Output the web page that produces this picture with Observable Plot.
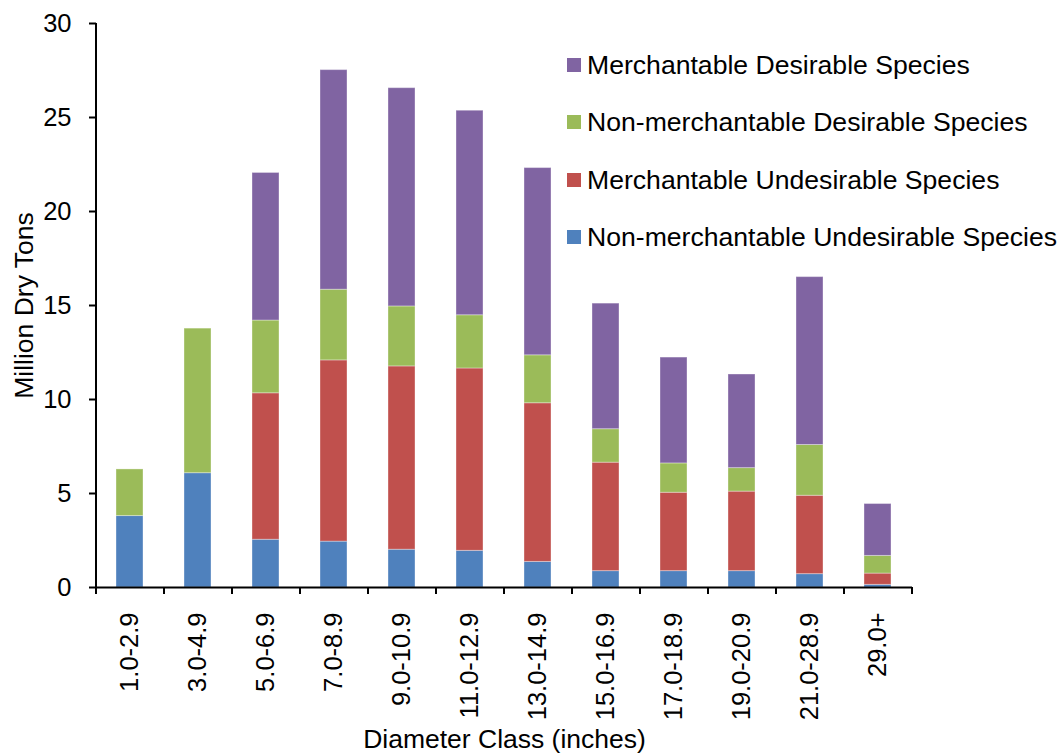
<!DOCTYPE html>
<html>
<head>
<meta charset="utf-8">
<script src="https://cdn.jsdelivr.net/npm/d3@7"></script>
<script src="https://cdn.jsdelivr.net/npm/@observablehq/plot@0.6"></script>
<style>
  html, body { margin: 0; padding: 0; background: #fff; }
  #wrap { position: relative; width: 1060px; height: 754px; font-family: "Liberation Sans", Arial, sans-serif; }
  .legend-row { position: absolute; left: 567px; height: 30px; display: flex; align-items: center; font-size: 26.6px; line-height: 30px; color: #000; white-space: nowrap; }
  .sw { width: 14px; height: 14px; margin-right: 6px; flex: none; }
</style>
</head>
<body>
<div id="wrap"></div>
<script>
const classes = ["1.0-2.9","3.0-4.9","5.0-6.9","7.0-8.9","9.0-10.9","11.0-12.9","13.0-14.9","15.0-16.9","17.0-18.9","19.0-20.9","21.0-28.9","29.0+"];
const seriesNames = ["Non-merchantable Undesirable Species","Merchantable Undesirable Species","Non-merchantable Desirable Species","Merchantable Desirable Species"];
const seriesColors = ["#4F81BD","#C0504D","#9BBB59","#8064A2"];
const nonMerchUndesirable = [3.80, 6.08, 2.54, 2.44, 2.01, 1.95, 1.36, 0.87, 0.87, 0.87, 0.71, 0.14];
const merchUndesirable    = [0, 0, 7.79, 9.64, 9.75, 9.70, 8.44, 5.77, 4.17, 4.23, 4.17, 0.60];
const nonMerchDesirable   = [2.48, 7.69, 3.87, 3.76, 3.19, 2.83, 2.55, 1.78, 1.56, 1.25, 2.70, 0.94];
const merchDesirable      = [0, 0, 7.85, 11.68, 11.61, 10.88, 9.96, 6.68, 5.63, 4.98, 8.93, 2.76];
const yTicks = [0, 5, 10, 15, 20, 25, 30];
const legendOrder = ["Merchantable Desirable Species","Non-merchantable Desirable Species","Merchantable Undesirable Species","Non-merchantable Undesirable Species"];

const seriesValues = [nonMerchUndesirable, merchUndesirable, nonMerchDesirable, merchDesirable];
const data = seriesNames.flatMap((s, si) => classes.map((c, ci) => ({cls: c, series: s, value: seriesValues[si][ci]})));

const W = 1060, H = 754, mL = 96, mR = 148, mT = 23, mB = 167;
const step = (W - mL - mR) / classes.length;
const below = 7 * 30 / (H - mT - mB); // 7px expressed in data units

const chart = Plot.plot({
  width: W, height: H,
  marginLeft: mL, marginRight: mR, marginTop: mT, marginBottom: mB,
  style: {fontFamily: "Liberation Sans, Arial, sans-serif", color: "#000", background: "#fff", overflow: "visible"},
  x: {domain: classes, paddingInner: 0.6, paddingOuter: 0.3, axis: null},
  y: {domain: [0, 30], axis: null},
  color: {domain: seriesNames, range: seriesColors},
  marks: [
    Plot.barY(data, {x: "cls", y: "value", fill: "series", order: seriesNames, stroke: "#fff", strokeOpacity: 0.35, strokeWidth: 1}),
    Plot.axisY({ticks: yTicks, tickSize: 7, tickPadding: 18, fontSize: 25.5, label: null, strokeWidth: 2}),
    Plot.ruleY([0], {stroke: "#000", strokeWidth: 2}),
    Plot.ruleX([classes[0]], {x: d => d, dx: -step / 2, y1: 0, y2: 30, stroke: "#000", strokeWidth: 2}),
    Plot.ruleX(classes, {x: d => d, dx: -step / 2, y1: 0, y2: -below, stroke: "#000", strokeWidth: 2}),
    Plot.ruleX([classes[classes.length - 1]], {x: d => d, dx: step / 2, y1: 0, y2: -below, stroke: "#000", strokeWidth: 2}),
    Plot.text(classes, {x: d => d, frameAnchor: "bottom", dy: 25, rotate: -90, textAnchor: "end", lineAnchor: "middle", fontSize: 25.5, fill: "#000"}),
    Plot.text(["Diameter Class (inches)"], {frameAnchor: "bottom", dy: 152, textAnchor: "middle", lineAnchor: "middle", fontSize: 26.5, fill: "#000"}),
    Plot.text(["Million Dry Tons"], {frameAnchor: "left", dx: -72, dy: 0, rotate: -90, textAnchor: "middle", lineAnchor: "middle", fontSize: 26.5, fill: "#000"})
  ]
});

const wrap = document.getElementById("wrap");
wrap.appendChild(chart);

const rowCenters = [65, 122.3, 179.5, 236.7];
legendOrder.forEach((name, i) => {
  const row = document.createElement("div");
  row.className = "legend-row";
  row.style.top = (rowCenters[i] - 15) + "px";
  const sw = document.createElement("span");
  sw.className = "sw";
  sw.style.background = seriesColors[seriesNames.indexOf(name)];
  const t = document.createElement("span");
  t.textContent = name;
  row.appendChild(sw);
  row.appendChild(t);
  wrap.appendChild(row);
});
</script>
</body>
</html>
